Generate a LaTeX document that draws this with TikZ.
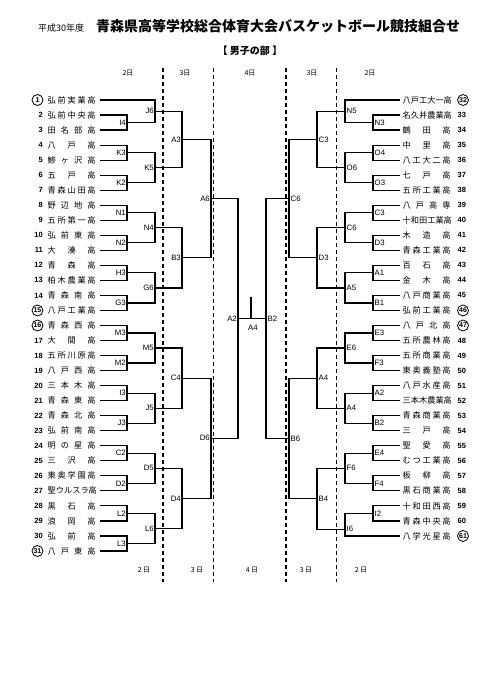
\documentclass[tikz,border=0pt]{standalone}
\usepackage{fontspec}
\setmainfont{Noto Sans CJK JP}
\newfontfamily\jpf{Noto Sans CJK JP}
\newfontfamily\arf{Liberation Sans}
\pgfmathdeclarefunction{ry}{1}{\pgfmathparse{100+15.033*(#1-1)}}
\def\sprloop#1{\ifx#1\relax\else\hfill#1\expandafter\sprloop\fi}
\def\sprfirst#1{#1\sprloop}
\newcommand\spreadname[1]{\makebox[48pt][s]{\expandafter\sprfirst#1\relax}}
\tikzset{
  br/.style={line width=1.2pt, line join=miter},
  dl/.style={line width=1.2pt, dash pattern=on 4pt off 3pt},
  tname/.style={inner sep=0pt, font=\jpf\fontsize{8.2}{9}\selectfont},
  num/.style={inner sep=0pt, font=\arf\bfseries\fontsize{7.5}{9}\selectfont},
  circnum/.style={circle, draw, line width=0.8pt, inner sep=0pt, minimum size=11pt, font=\arf\bfseries\fontsize{7}{8}\selectfont},
  lbL/.style={anchor=east, inner sep=0pt, xshift=-1pt, font=\arf\fontsize{7.8}{9}\selectfont},
  lbR/.style={anchor=west, inner sep=0pt, xshift=1.5pt, font=\arf\fontsize{7.8}{9}\selectfont},
  dayl/.style={inner sep=0pt, font=\jpf\fontsize{7}{8}\selectfont},
}
\begin{document}
\begin{tikzpicture}[x=1pt,y=-1pt]
\useasboundingbox (0,0) rectangle (481,680);
\fill[white] (0,0) rectangle (481,680);
% titles
\node[anchor=base west, inner sep=0pt, font=\jpf\fontsize{9}{10}\selectfont] (sub) at (38,31) {平成30年度};
\node[anchor=base west, inner sep=0pt, font=\jpf\bfseries\fontsize{14}{16}\selectfont] (title) at (96,31) {青森県高等学校総合体育大会バスケットボール競技組合せ};
\node[inner sep=0pt, font=\jpf\bfseries\fontsize{10}{12}\selectfont] (div) at (250,51) {【 男子の部 】};
% day labels
\node[dayl] (h1) at (128,73) {2日};
\node[dayl] (h2) at (185,73) {3日};
\node[dayl] (h3) at (250,73) {4日};
\node[dayl] (h4) at (312,73) {3日};
\node[dayl] (h5) at (370,73) {2日};
\node[dayl] (f1) at (144,570) {2 日};
\node[dayl] (f2) at (197,570) {3 日};
\node[dayl] (f3) at (252,570) {4 日};
\node[dayl] (f4) at (306,570) {3 日};
\node[dayl] (f5) at (361,570) {2 日};
% dashed day separators
\foreach \i/\x in {1/163,2/213.5,3/286,4/336.5}{
  \coordinate (d\i t) at (\x,68);
  \coordinate (d\i b) at (\x,582);
  \draw[dl] (d\i t) -- (d\i b);
}
% left teams
\foreach \n/\t/\c in {1/弘前実業高/1,2/弘前中央高/0,3/田名部高/0,4/八戸高/0,5/鯵ヶ沢高/0,6/五戸高/0,7/青森山田高/0,8/野辺地高/0,9/五所第一高/0,10/弘前東高/0,11/大湊高/0,12/青森高/0,13/柏木農業高/0,14/青森南高/0,15/八戸工業高/1,16/青森西高/1,17/大間高/0,18/五所川原高/0,19/八戸西高/0,20/三本木高/0,21/青森東高/0,22/青森北高/0,23/弘前南高/0,24/明の星高/0,25/三沢高/0,26/東奥学園高/0,27/聖ウルスラ高/0,28/黒石高/0,29/浪岡高/0,30/弘前高/0,31/八戸東高/1}{
  \node[tname, anchor=west] (ln\n) at (47.5,{ry(\n)}) {\spreadname{\t}};
  \ifnum\c=1
    \node[circnum] (lno\n) at (37.5,{ry(\n)}) {\n};
  \else
    \node[num, anchor=east] (lno\n) at (43,{ry(\n)}) {\n};
  \fi
  \coordinate (lt\n) at (100,{ry(\n)});
}
% right teams
\foreach \n/\t/\c in {32/八戸工大一高/1,33/名久井農業高/0,34/鶴田高/0,35/中里高/0,36/八工大二高/0,37/七戸高/0,38/五所工業高/0,39/八戸高専/0,40/十和田工業高/0,41/木造高/0,42/青森工業高/0,43/百石高/0,44/金木高/0,45/八戸商業高/0,46/弘前工業高/1,47/八戸北高/1,48/五所農林高/0,49/五所商業高/0,50/東奥義塾高/0,51/八戸水産高/0,52/三本木農業高/0,53/青森商業高/0,54/三戸高/0,55/聖愛高/0,56/むつ工業高/0,57/板柳高/0,58/黒石商業高/0,59/十和田西高/0,60/青森中央高/0,61/八学光星高/1}{
  \node[tname, anchor=west] (rn\n) at (402.5,{ry(\n-31)}) {\spreadname{\t}};
  \ifnum\c=1
    \node[circnum] (rno\n) at (463,{ry(\n-31)}) {\n};
  \else
    \node[num, anchor=west] (rno\n) at (457.5,{ry(\n-31)}) {\n};
  \fi
  \coordinate (rt\n) at (400,{ry(\n-31)});
}
% left match points
\foreach \nm/\x/\r/\txt in {lI4/127/2.5/I4,lJ6/155/1.75/J6,lK3/127/4.5/K3,lK2/127/6.5/K2,lK5/155/5.5/K5,lA3/182/3.625/A3,lN1/127/8.5/N1,lN2/127/10.5/N2,lN4/155/9.5/N4,lH3/127/12.5/H3,lG3/127/14.5/G3,lG6/155/13.5/G6,lB3/182/11.5/B3,lA6/211/7.5625/A6,lM3/127/16.5/M3,lM2/127/18.5/M2,lM5/155/17.5/M5,lI3/127/20.5/I3,lJ3/127/22.5/J3,lJ5/155/21.5/J5,lC4/182/19.5/C4,lC2/127/24.5/C2,lD2/127/26.5/D2,lD5/155/25.5/D5,lL2/127/28.5/L2,lL3/127/30.5/L3,lL6/155/29.5/L6,lD4/182/27.5/D4,lD6/211/23.5/D6,lA2/238/15.53125/A2}{
  \coordinate (\nm) at (\x,{ry(\r)});
  \node[lbL] (\nm lab) at (\nm) {\txt};
}
% right match points
\foreach \nm/\x/\r/\txt in {rN3/373/2.5/N3,rN5/345/1.75/N5,rO4/373/4.5/O4,rO3/373/6.5/O3,rO6/345/5.5/O6,rC3b/317/3.625/C3,rC3a/373/8.5/C3,rD3a/373/10.5/D3,rC6a/345/9.5/C6,rA1/373/12.5/A1,rB1/373/14.5/B1,rA5/345/13.5/A5,rD3b/317/11.5/D3,rC6b/289/7.5625/C6,rE3/373/16.5/E3,rF3/373/18.5/F3,rE6/345/17.5/E6,rA2a/373/20.5/A2,rB2a/373/22.5/B2,rA4a/345/21.5/A4,rA4b/317/19.5/A4,rE4/373/24.5/E4,rF4/373/26.5/F4,rF6/345/25.5/F6,rI2/373/28.5/I2,rI6/345/29.55/I6,rB4/317/27.525/B4,rB6/289/23.5125/B6,rB2b/266/15.53125/B2}{
  \coordinate (\nm) at (\x,{ry(\r)});
  \node[lbR] (\nm lab) at (\nm) {\txt};
}
% left brackets
\foreach \a/\m/\b in {lt2/lI4/lt3,lt1/lJ6/lI4,lt4/lK3/lt5,lt6/lK2/lt7,lK3/lK5/lK2,lJ6/lA3/lK5,lt8/lN1/lt9,lt10/lN2/lt11,lN1/lN4/lN2,lt12/lH3/lt13,lt14/lG3/lt15,lH3/lG6/lG3,lN4/lB3/lG6,lA3/lA6/lB3,lt16/lM3/lt17,lt18/lM2/lt19,lM3/lM5/lM2,lt20/lI3/lt21,lt22/lJ3/lt23,lI3/lJ5/lJ3,lM5/lC4/lJ5,lt24/lC2/lt25,lt26/lD2/lt27,lC2/lD5/lD2,lt28/lL2/lt29,lt30/lL3/lt31,lL2/lL6/lL3,lD5/lD4/lL6,lC4/lD6/lD4,lA6/lA2/lD6}{
  \draw[br] (\a) -| (\m) |- (\b);
}
% right brackets
\foreach \a/\m/\b in {rt33/rN3/rt34,rt32/rN5/rN3,rt35/rO4/rt36,rt37/rO3/rt38,rO4/rO6/rO3,rN5/rC3b/rO6,rt39/rC3a/rt40,rt41/rD3a/rt42,rC3a/rC6a/rD3a,rt43/rA1/rt44,rt45/rB1/rt46,rA1/rA5/rB1,rC6a/rD3b/rA5,rC3b/rC6b/rD3b,rt47/rE3/rt48,rt49/rF3/rt50,rE3/rE6/rF3,rt51/rA2a/rt52,rt53/rB2a/rt54,rA2a/rA4a/rB2a,rE6/rA4b/rA4a,rt55/rE4/rt56,rt57/rF4/rt58,rE4/rF6/rF4,rt59/rI2/rt60,rI2/rI6/rt61,rF6/rB4/rI6,rA4b/rB6/rB4,rC6b/rB2b/rB6}{
  \draw[br] (\a) -| (\m) |- (\b);
}
% final
\draw[br] (lA2) -- (rB2b);
\coordinate (champtop) at (251,{ry(15.53125)-21});
\coordinate (champbot) at (251,{ry(15.53125)});
\draw[br] (champtop) -- (champbot);
\node[inner sep=0pt, font=\arf\fontsize{7.8}{9}\selectfont] (champlab) at (253,{ry(15.53125)+9}) {A4};
\end{tikzpicture}
\end{document}
